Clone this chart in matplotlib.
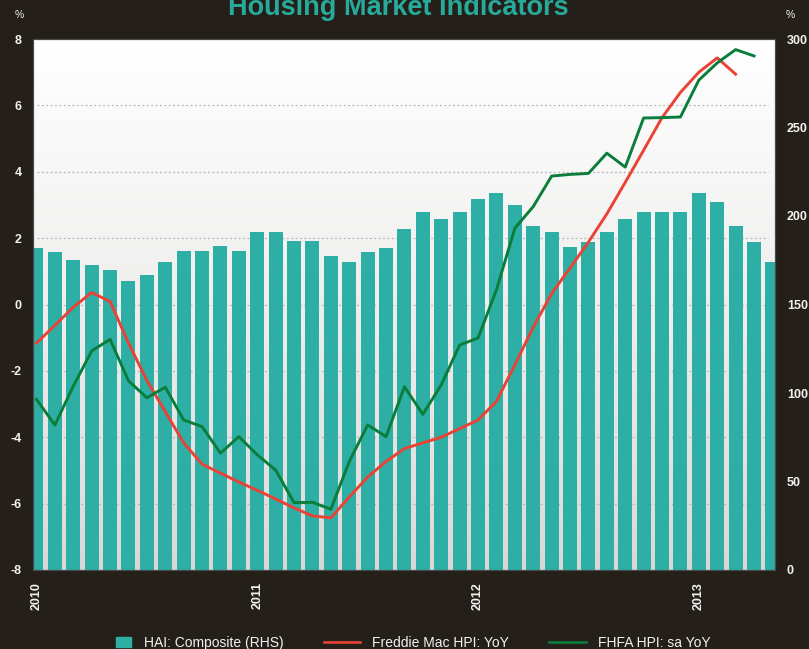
import numpy as np
import pandas as pd
from matplotlib import pyplot as plt
from matplotlib.patches import Rectangle
from matplotlib.legend_handler import HandlerPatch
from matplotlib.lines import Line2D

plt.rcParams['font.family'] = ['Liberation Sans', 'DejaVu Sans']
plt.rcParams['axes.unicode_minus'] = False

# monthly, Jan 2010 .. May 2013
months = pd.date_range('2010-01-01', periods=41, freq='MS')

# HAI composite (right axis)
hai = [181.9, 179.7, 175.1, 172.3, 169.5, 163.3, 166.7, 174.0, 180.2, 180.2,
       183.1, 180.2, 191.0, 191.0, 185.9, 185.9, 177.4, 174.0, 179.7, 181.9,
       192.7, 202.3, 198.3, 202.3, 209.6, 213.0, 206.2, 194.4, 191.0, 182.5,
       185.3, 191.0, 198.3, 202.3, 202.3, 202.3, 213.0, 207.9, 194.4, 185.3,
       174.0]

# Freddie Mac HPI YoY %, to Mar 2013
freddie = [-1.16, -0.63, -0.08, 0.36, 0.09, -1.16, -2.29, -3.23, -4.17, -4.81,
           -5.08, -5.35, -5.60, -5.86, -6.13, -6.37, -6.43, -5.80, -5.20, -4.73,
           -4.34, -4.17, -4.00, -3.74, -3.48, -2.92, -1.82, -0.68, 0.33, 1.10,
           1.88, 2.73, 3.68, 4.65, 5.63, 6.39, 7.00, 7.43, 6.94]

# FHFA HPI sa YoY %, to Apr 2013
fhfa = [-2.86, -3.63, -2.46, -1.40, -1.05, -2.30, -2.81, -2.49, -3.48, -3.68,
        -4.48, -3.98, -4.53, -4.99, -5.97, -5.96, -6.17, -4.73, -3.63, -3.98,
        -2.48, -3.31, -2.42, -1.22, -1.01, 0.44, 2.30, 2.95, 3.87, 3.92,
        3.95, 4.56, 4.14, 5.62, 5.63, 5.65, 6.76, 7.28, 7.68, 7.49]

left_ticks = list(range(-8, 9, 2))
right_ticks = list(range(0, 301, 50))
year_labels = ['2010', '2011', '2012', '2013']

bg = '#241f19'
teal = '#2dafa6'
red = '#ea4235'
green = '#0a7d3a'
txt = '#f2f2f2'

x = np.arange(len(months))

fig = plt.figure(figsize=(8.09, 6.49), dpi=100, facecolor=bg)
ax = fig.add_axes([33/809, 1 - 570/649, 742/809, 531/649])
ax2 = ax.twinx()

# plot-area gradient
grad = np.linspace(0, 1, 256).reshape(-1, 1)
top = np.array([1.0, 1.0, 1.0])
bot = np.array([0.85, 0.845, 0.835])
img = bot + (top - bot) * grad[..., None] ** 0.8
ax.imshow(img, extent=[0, 1, 0, 1], transform=ax.transAxes, aspect='auto',
          origin='lower', zorder=0)

ax.set_xlim(-0.19, 40.14)
ax.set_ylim(0, 300)
ax2.set_ylim(-8, 8)

# grid from the left-axis ticks, drawn under the bars
for v in left_ticks[1:-1]:
    r = (v + 8) / 16 * 300
    ax.axhline(r, xmin=0.005, xmax=0.99, color='#b5b5b5', lw=0.9,
               linestyle=(0, (1.5, 2)), zorder=1)

ax.bar(x, hai, width=0.76, color=teal, zorder=2, label='HAI: Composite (RHS)')
ax2.plot(x[:len(freddie)], freddie, color=red, lw=2.1, label='Freddie Mac HPI: YoY')
ax2.plot(x[:len(fhfa)], fhfa, color=green, lw=2.1, label='FHFA HPI: sa YoY')

ax.yaxis.tick_right()
ax2.yaxis.tick_left()
ax.set_yticks(right_ticks)
ax2.set_yticks(left_ticks)
ax.set_xticks([0, 12, 24, 36])
ax.set_xticklabels(year_labels, rotation=90, va='top', ha='center')

for a in (ax, ax2):
    a.tick_params(length=0, colors=txt, labelsize=9)
    for s in a.spines.values():
        s.set_color('#4a4a4a')
        s.set_linewidth(0.8)
ax.tick_params(axis='x', pad=8.5)
ax.tick_params(axis='y', pad=8.5)
ax2.tick_params(axis='y', pad=8)
for lab in ax.get_xticklabels() + ax.get_yticklabels() + ax2.get_yticklabels():
    lab.set_fontweight('bold')

fig.text(0.492, 1 - 15/649, 'Housing Market Indicators', ha='center', va='baseline',
         fontsize=19.5, fontweight='bold', color='#27a99b')
fig.text(19/809, 1 - 15/649, '%', ha='center', va='center', fontsize=7.5, color=txt)
fig.text(790/809, 1 - 15/649, '%', ha='center', va='center', fontsize=7.5, color=txt)


def small_rect(legend, orig_handle, xdescent, ydescent, width, height, fontsize):
    w = height * 1.6
    return Rectangle((width - w - xdescent, -ydescent), w, height)


handles = [Rectangle((0, 0), 1, 1, color=teal),
           Line2D([], [], color=red, lw=1.9),
           Line2D([], [], color=green, lw=1.9)]
labels = ['HAI: Composite (RHS)', 'Freddie Mac HPI: YoY', 'FHFA HPI: sa YoY']
leg = fig.legend(handles, labels, loc='center', bbox_to_anchor=(0.498, 1 - 643/649),
                 ncol=3, frameon=False, fontsize=10, handlelength=2.6,
                 handletextpad=0.9, columnspacing=2.9,
                 handler_map={Rectangle: HandlerPatch(patch_func=small_rect)})
for t in leg.get_texts():
    t.set_color(txt)

fig.savefig('out.png', dpi=100, facecolor=bg)
